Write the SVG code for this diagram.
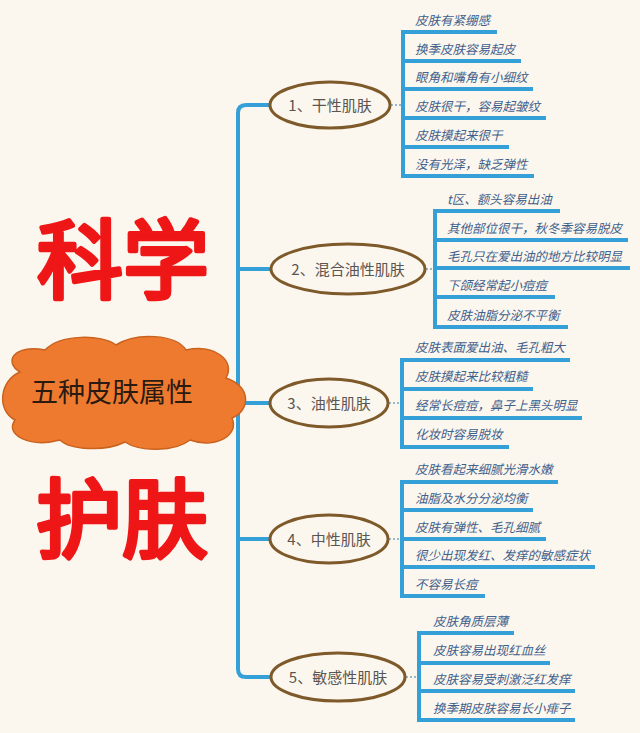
<svg xmlns="http://www.w3.org/2000/svg" width="640" height="733" viewBox="0 0 640 733">
<defs>
<style>
.bg{fill:#FCF7EE}
.big{font-family:"Noto Sans CJK SC","Noto Sans",sans-serif;font-size:86px;font-weight:400;fill:#EE1616;stroke:#EE1616;stroke-width:4.5;stroke-linejoin:round;stroke-linecap:round;text-anchor:middle}
.cloud{fill:#EE7A30;stroke:#C9621E;stroke-width:1.5}
.rootText{font-family:"Noto Sans CJK SC","Noto Sans",sans-serif;font-size:27px;font-weight:400;fill:#2A1A10;text-anchor:middle}
.ell{fill:#FCF7EE;stroke:#7E5A2A;stroke-width:3}
.ellText{font-family:"Noto Sans CJK SC","Noto Sans",sans-serif;font-size:15px;fill:#5A5550;text-anchor:middle}
.conn{fill:none;stroke:#35A0D8;stroke-width:4;stroke-linecap:butt}
.dot{fill:none;stroke:#9BB8C8;stroke-width:2;stroke-dasharray:2 2}
.leaf{font-family:"Noto Sans CJK SC","Noto Sans",sans-serif;font-size:12.5px;font-style:italic;fill:#41608C}
.ul{stroke:#35A0D8;stroke-width:4}
</style>
</defs>
<rect class="bg" x="0" y="0" width="640" height="733"/>

<g id="connectors">
  <path class="conn" d="M270 105 H246 Q238 105 238 113 V669 Q238 677 246 677 H270"/>
  <path class="conn" d="M238 269 H270 M238 403 H270 M238 539 H270"/>
  <path class="dot" d="M391 105 H401 M426 269 H433 M389 403 H400 M389 539 H400 M406 677 H417"/>
  <path class="conn" d="M403 32 V176"/>
  <path class="conn" d="M435 211 V327"/>
  <path class="conn" d="M402 360 V447"/>
  <path class="conn" d="M402 482 V596"/>
  <path class="conn" d="M419 633 V720"/>
</g>

<g id="title">
  <text class="big" x="123" y="292">科学</text>
  <text class="big" x="122" y="551">护肤</text>
</g>

<g id="root">
  <path class="cloud" d="M20 372 C3 362 14 344 45 350 C60 334 102 334 116 345 C136 332 176 334 186 350 C214 344 236 360 226 378 C251 386 251 410 232 418 C240 436 214 449 190 440 C175 452 140 452 125 442 C105 452 70 450 60 440 C30 448 4 435 15 420 C-4 410 0 380 20 372 Z"/>
  <text class="rootText" x="112" y="402">五种皮肤属性</text>
</g>

<g id="type1">
  <ellipse class="ell" cx="330" cy="105" rx="60" ry="23"/>
  <text class="ellText" x="330" y="110.5">1、干性肌肤</text>
</g>
<g id="type2">
  <ellipse class="ell" cx="348" cy="269" rx="77" ry="25"/>
  <text class="ellText" x="348" y="274.5">2、混合油性肌肤</text>
</g>
<g id="type3">
  <ellipse class="ell" cx="329" cy="403" rx="59" ry="24"/>
  <text class="ellText" x="329" y="408.5">3、油性肌肤</text>
</g>
<g id="type4">
  <ellipse class="ell" cx="329" cy="539" rx="59" ry="24"/>
  <text class="ellText" x="329" y="544.5">4、中性肌肤</text>
</g>
<g id="type5">
  <ellipse class="ell" cx="338" cy="677" rx="67" ry="24"/>
  <text class="ellText" x="338" y="682.5">5、敏感性肌肤</text>
</g>

<g id="leaf1-1"><text class="leaf" x="415" y="25">皮肤有紧绷感</text><line class="ul" x1="401" y1="32" x2="497" y2="32"/></g>
<g id="leaf1-2"><text class="leaf" x="415" y="54">换季皮肤容易起皮</text><line class="ul" x1="401" y1="61" x2="521" y2="61"/></g>
<g id="leaf1-3"><text class="leaf" x="415" y="82">眼角和嘴角有小细纹</text><line class="ul" x1="401" y1="89" x2="533" y2="89"/></g>
<g id="leaf1-4"><text class="leaf" x="415" y="111">皮肤很干，容易起皱纹</text><line class="ul" x1="401" y1="118" x2="546" y2="118"/></g>
<g id="leaf1-5"><text class="leaf" x="415" y="140">皮肤摸起来很干</text><line class="ul" x1="401" y1="147" x2="509" y2="147"/></g>
<g id="leaf1-6"><text class="leaf" x="415" y="169">没有光泽，缺乏弹性</text><line class="ul" x1="401" y1="176" x2="534" y2="176"/></g>

<g id="leaf2-1"><text class="leaf" x="447" y="204">t区、额头容易出油</text><line class="ul" x1="433" y1="211" x2="560" y2="211"/></g>
<g id="leaf2-2"><text class="leaf" x="447" y="233">其他部位很干，秋冬季容易脱皮</text><line class="ul" x1="433" y1="240" x2="628" y2="240"/></g>
<g id="leaf2-3"><text class="leaf" x="447" y="261">毛孔只在爱出油的地方比较明显</text><line class="ul" x1="433" y1="268" x2="630" y2="268"/></g>
<g id="leaf2-4"><text class="leaf" x="447" y="290">下颌经常起小痘痘</text><line class="ul" x1="433" y1="297" x2="555" y2="297"/></g>
<g id="leaf2-5"><text class="leaf" x="447" y="320">皮肤油脂分泌不平衡</text><line class="ul" x1="433" y1="327" x2="568" y2="327"/></g>

<g id="leaf3-1"><text class="leaf" x="415" y="352">皮肤表面爱出油、毛孔粗大</text><line class="ul" x1="400" y1="360" x2="570" y2="360"/></g>
<g id="leaf3-2"><text class="leaf" x="415" y="381">皮肤摸起来比较粗糙</text><line class="ul" x1="400" y1="389" x2="533" y2="389"/></g>
<g id="leaf3-3"><text class="leaf" x="415" y="410">经常长痘痘，鼻子上黑头明显</text><line class="ul" x1="400" y1="418" x2="582" y2="418"/></g>
<g id="leaf3-4"><text class="leaf" x="415" y="439">化妆时容易脱妆</text><line class="ul" x1="400" y1="447" x2="509" y2="447"/></g>

<g id="leaf4-1"><text class="leaf" x="415" y="474">皮肤看起来细腻光滑水嫩</text><line class="ul" x1="400" y1="482" x2="558" y2="482"/></g>
<g id="leaf4-2"><text class="leaf" x="415" y="503">油脂及水分分泌均衡</text><line class="ul" x1="400" y1="510" x2="533" y2="510"/></g>
<g id="leaf4-3"><text class="leaf" x="415" y="532">皮肤有弹性、毛孔细腻</text><line class="ul" x1="400" y1="539" x2="546" y2="539"/></g>
<g id="leaf4-4"><text class="leaf" x="415" y="560">很少出现发红、发痒的敏感症状</text><line class="ul" x1="400" y1="567" x2="595" y2="567"/></g>
<g id="leaf4-5"><text class="leaf" x="415" y="589">不容易长痘</text><line class="ul" x1="400" y1="596" x2="485" y2="596"/></g>

<g id="leaf5-1"><text class="leaf" x="433" y="626">皮肤角质层薄</text><line class="ul" x1="417" y1="633" x2="514" y2="633"/></g>
<g id="leaf5-2"><text class="leaf" x="433" y="655">皮肤容易出现红血丝</text><line class="ul" x1="417" y1="663" x2="550" y2="663"/></g>
<g id="leaf5-3"><text class="leaf" x="433" y="684">皮肤容易受刺激泛红发痒</text><line class="ul" x1="417" y1="691" x2="575" y2="691"/></g>
<g id="leaf5-4"><text class="leaf" x="433" y="713">换季期皮肤容易长小痱子</text><line class="ul" x1="417" y1="720" x2="575" y2="720"/></g>
</svg>
